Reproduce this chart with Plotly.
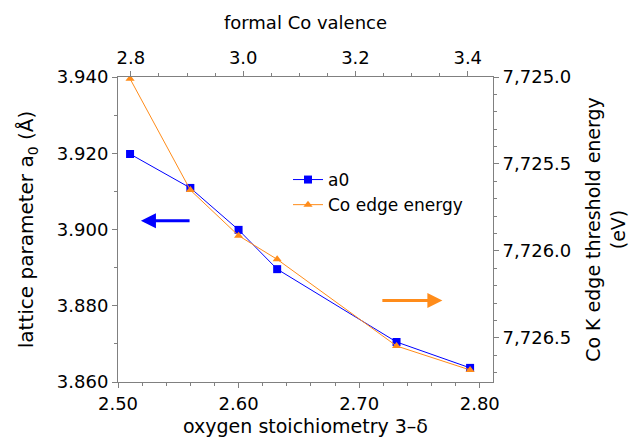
import plotly.graph_objects as go

# Data
stoich = [2.51, 2.56, 2.60, 2.632, 2.731, 2.792]
a0 = [3.9198, 3.9109, 3.8999, 3.8896, 3.8705, 3.8637]
edge_energy = [7725.01, 7725.65, 7725.912, 7726.048, 7726.546, 7726.684]

x_range = [2.50, 2.811]
x2_range = [2.777, 3.445]
y_range = [3.860, 3.940]
y2_range = [7726.753, 7725.0]

FONT = "DejaVu Sans"
AX = "#808080"

fig = go.Figure()
fig.add_trace(go.Scatter(x=stoich, y=a0, name="a0", mode="lines+markers",
                         line=dict(color="#0000FF", width=1),
                         marker=dict(symbol="square", size=8, color="#0000FF")))
fig.add_trace(go.Scatter(x=stoich, y=edge_energy, name="Co edge energy", yaxis="y2",
                         mode="lines+markers",
                         line=dict(color="#FF8C1A", width=1),
                         marker=dict(symbol="triangle-up", size=8, color="#FF8C1A")))
# invisible trace to activate top axis
fig.add_trace(go.Scatter(x=x2_range, y=[None, None], xaxis="x2", showlegend=False,
                         hoverinfo="skip", mode="lines"))

common = dict(showline=True, linecolor=AX, linewidth=1, ticks="outside", tickcolor=AX,
              ticklen=5, showgrid=False, zeroline=False, automargin=False,
              tickfont=dict(family=FONT, size=18, color="black"))

fig.update_layout(
    width=634, height=437,
    margin=dict(l=118, r=141, t=77, b=55),
    paper_bgcolor="white", plot_bgcolor="white",
    font=dict(family=FONT, size=18, color="black"),
    xaxis=dict(range=x_range, dtick=0.1, tick0=2.5, tickformat=".2f",
               minor=dict(ticks="outside", dtick=0.02, ticklen=3, tickcolor=AX),
               title=dict(text="oxygen stoichiometry 3–δ", standoff=9,
                          font=dict(family=FONT, size=19)),
               **common),
    xaxis2=dict(range=x2_range, overlaying="x", side="top", dtick=0.2, tick0=2.8,
                tickformat=".1f",
                minor=dict(ticks="outside", dtick=0.05, ticklen=3, tickcolor=AX),
                title=dict(text="formal Co valence", standoff=12,
                           font=dict(family=FONT, size=18)),
                **common),
    yaxis=dict(range=y_range, dtick=0.02, tick0=3.86, tickformat=".3f",
               minor=dict(ticks="outside", dtick=0.01, ticklen=3, tickcolor=AX),
               title=dict(text="lattice parameter a<sub>0</sub> (Å)", standoff=17,
                          font=dict(family=FONT, size=20)),
               **common),
    yaxis2=dict(range=y2_range, overlaying="y", side="right", dtick=0.5, tick0=7725.0,
                tickformat=",.1f",
                minor=dict(ticks="outside", dtick=0.1, ticklen=3, tickcolor=AX),
                title=dict(text="Co K edge threshold energy<br>(eV)", standoff=16,
                           font=dict(family=FONT, size=19)),
                **common),
    legend=dict(x=(288 - 118) / 375, y=(382 - 162) / 305, xanchor="left", yanchor="top",
                bgcolor="rgba(0,0,0,0)", font=dict(family=FONT, size=17),
                tracegroupgap=0, itemwidth=30),
    showlegend=True,
)

# arrows indicating which axis each series belongs to
fig.add_annotation(x=2.519, y=3.9023, ax=2.5606, ay=3.9023, xref="x", yref="y",
                   axref="x", ayref="y", showarrow=True, arrowhead=2, arrowsize=1,
                   arrowwidth=3, arrowcolor="#0000FF", text="")
fig.add_annotation(x=2.769, y=3.8814, ax=2.718, ay=3.8814, xref="x", yref="y",
                   axref="x", ayref="y", showarrow=True, arrowhead=2, arrowsize=1,
                   arrowwidth=3, arrowcolor="#FF8C1A", text="")

fig.write_html("out.html")
